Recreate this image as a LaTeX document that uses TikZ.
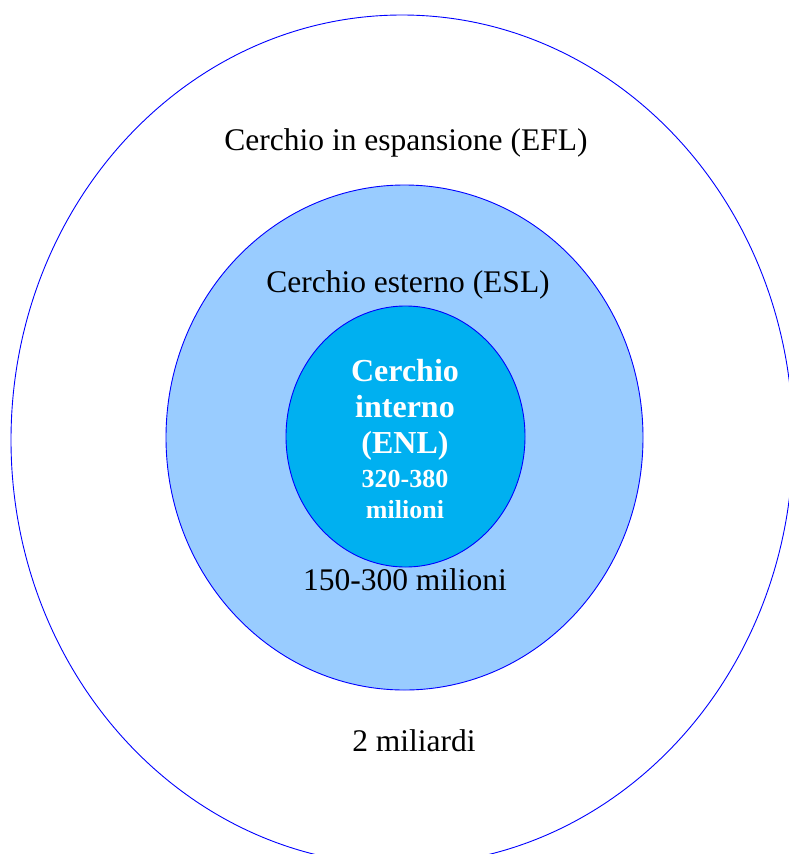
\documentclass[tikz,border=0pt]{standalone}
\usepackage{fontspec}
\setmainfont{Liberation Serif}
\usetikzlibrary{positioning, shapes.geometric}

\definecolor{ringblue}{HTML}{0000FF}
\definecolor{eslfill}{HTML}{99CCFF}
\definecolor{enlfill}{HTML}{00B0F0}

\tikzset{
  ring/.style = {ellipse, draw = ringblue, line width = 0.9pt, inner sep = 0pt},
  plainlabel/.style = {font = \fontsize{31.5}{36}\selectfont, text = black, inner sep = 0pt},
  corelabel/.style = {font = \bfseries\fontsize{32}{36}\selectfont, text = white, align = center, inner sep = 0pt},
  coresmall/.style = {font = \bfseries\fontsize{26}{31}\selectfont, text = white, align = center, inner sep = 0pt}
}

\begin{document}
\begin{tikzpicture}[x = 1pt, y = -1pt]
            \useasboundingbox (0,0) rectangle (788,854);
            % the three circles
            \node[ring, minimum width = 782pt, minimum height = 850pt] (efl) at (402,440) {};
            \node[ring, fill = eslfill, minimum width = 477pt, minimum height = 505pt] (esl) at (404.5,437.5) {};
            \node[ring, fill = enlfill, minimum width = 239pt, minimum height = 261pt] (enl) at (405.5,436.5) {};

            % labels
            \node[plainlabel] (eflname) at (406,143) {Cerchio in espansione (EFL)};
            \node[plainlabel] (eslname) at (408,285) {Cerchio esterno (ESL)};
            \node[plainlabel] (eslnum) at (405,580) {150-300 milioni};
            \node[plainlabel] (eflnum) at (414,741) {2 miliardi};
            \node[corelabel] (enlname) at (405,409.5) {Cerchio\\interno\\(ENL)};
            \node[coresmall] (enlnum) [below = 10pt of enlname] {320-380\\milioni};
          \end{tikzpicture}
\end{document}
